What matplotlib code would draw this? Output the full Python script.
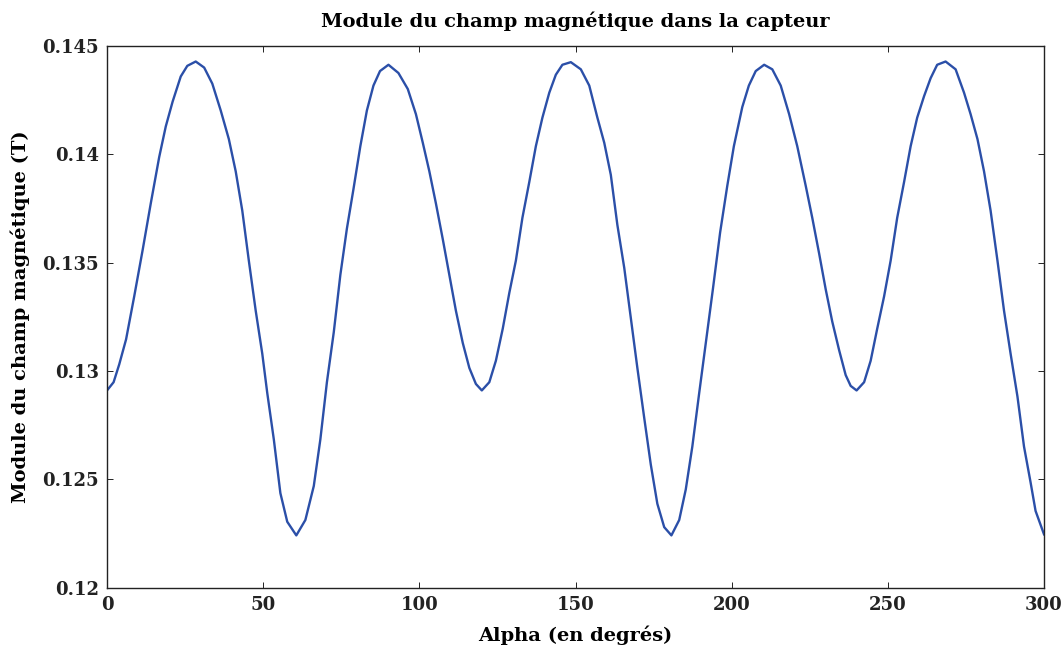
import matplotlib
matplotlib.use('Agg')
import matplotlib.pyplot as plt

# Values (angle in degrees, field in T)
alpha = [0, 2.1, 3.9, 6.1, 8.7, 11.4, 14.0, 16.7, 18.8, 21.0, 23.6, 25.7, 28.4,
         31.1, 33.7, 36.4, 39.0, 41.2, 43.3, 45.4, 47.6, 49.7, 51.3, 53.4, 55.5,
         57.7, 60.6, 63.5, 66.2, 68.3, 70.4, 72.6, 74.7, 76.8, 78.9, 81.1, 83.2,
         85.3, 87.4, 90.1, 93.3, 96.3, 98.9, 101.1, 103.2, 105.3, 107.5, 109.6,
         111.7, 113.9, 116.0, 118.1, 120.0, 122.4, 124.5, 126.7, 128.8, 130.9,
         133.0, 135.2, 137.3, 139.4, 141.6, 143.7, 145.8, 148.5, 151.7, 154.4,
         157.0, 159.2, 161.3, 163.4, 165.6, 167.7, 169.8, 172.0, 174.1, 176.2,
         178.4, 180.7, 183.2, 185.3, 187.4, 189.6, 191.7, 194.0, 196.3, 198.6,
         200.7, 203.4, 205.5, 207.7, 210.4, 213.0, 215.7, 218.4, 221.0, 223.7,
         225.8, 228.0, 230.1, 232.2, 234.4, 236.5, 238.1, 240.0, 242.4, 244.5,
         246.6, 248.8, 250.9, 253.0, 255.2, 257.3, 259.4, 261.6, 263.7, 265.8,
         268.5, 271.7, 274.4, 276.5, 278.7, 280.8, 282.9, 285.1, 287.2, 289.3,
         291.5, 293.6, 295.7, 297.3, 300.0]
champ = [0.12911, 0.12949, 0.13031, 0.13147, 0.13345, 0.13559, 0.13774, 0.13988,
         0.14129, 0.14244, 0.14360, 0.14409, 0.14429, 0.14401, 0.14327, 0.14203,
         0.14071, 0.13922, 0.13741, 0.13510, 0.13279, 0.13081, 0.12899, 0.12685,
         0.12437, 0.12305, 0.12242, 0.12313, 0.12470, 0.12685, 0.12949, 0.13180,
         0.13444, 0.13658, 0.13840, 0.14038, 0.14203, 0.14318, 0.14385, 0.14414,
         0.14376, 0.14302, 0.14186, 0.14054, 0.13922, 0.13774, 0.13609, 0.13444,
         0.13279, 0.13130, 0.13015, 0.12941, 0.12911, 0.12949, 0.13048, 0.13196,
         0.13361, 0.13510, 0.13708, 0.13873, 0.14038, 0.14170, 0.14285, 0.14368,
         0.14414, 0.14426, 0.14393, 0.14318, 0.14170, 0.14054, 0.13906, 0.13675,
         0.13477, 0.13246, 0.13015, 0.12784, 0.12569, 0.12388, 0.12280, 0.12242,
         0.12313, 0.12454, 0.12652, 0.12899, 0.13130, 0.13380, 0.13640, 0.13856,
         0.14038, 0.14219, 0.14318, 0.14385, 0.14414, 0.14393, 0.14318, 0.14186,
         0.14038, 0.13856, 0.13708, 0.13543, 0.13378, 0.13229, 0.13097, 0.12982,
         0.12932, 0.12911, 0.12949, 0.13048, 0.13196, 0.13345, 0.13510, 0.13708,
         0.13873, 0.14038, 0.14170, 0.14269, 0.14352, 0.14414, 0.14429, 0.14393,
         0.14285, 0.14186, 0.14071, 0.13922, 0.13741, 0.13510, 0.13279, 0.13081,
         0.12883, 0.12652, 0.12487, 0.12355, 0.12247]

xticks = [0, 50, 100, 150, 200, 250, 300]
yticks = [0.12, 0.125, 0.13, 0.135, 0.14, 0.145]
ytick_labels = ['0.12', '0.125', '0.13', '0.135', '0.14', '0.145']

plt.rcParams['font.family'] = 'DejaVu Serif'
plt.rcParams['font.weight'] = 'bold'

fig = plt.figure(figsize=(10.64, 6.59), dpi=100)
ax = fig.add_axes([0.1006, 0.108, 0.8806, 0.822])

ax.plot(alpha, champ, color='#2b4fa8', linewidth=1.7)

ax.set_xlim(0, 300)
ax.set_ylim(0.12, 0.145)
ax.set_xticks(xticks)
ax.set_yticks(yticks)
ax.set_yticklabels(ytick_labels)
ax.tick_params(direction='in', length=4, width=0.7, top=True, right=True,
               labelsize=13, pad=6, colors='#222222')
for side in ax.spines.values():
    side.set_linewidth(1.0)
    side.set_color('#222222')

ax.set_title('Module du champ magnétique dans la capteur', fontsize=14,
             fontweight='bold', pad=14)
ax.set_xlabel('Alpha (en degrés)', fontsize=14, fontweight='bold', labelpad=8)
ax.set_ylabel('Module du champ magnétique (T)', fontsize=14, fontweight='bold',
              labelpad=9)

fig.savefig('out.png', dpi=100)
